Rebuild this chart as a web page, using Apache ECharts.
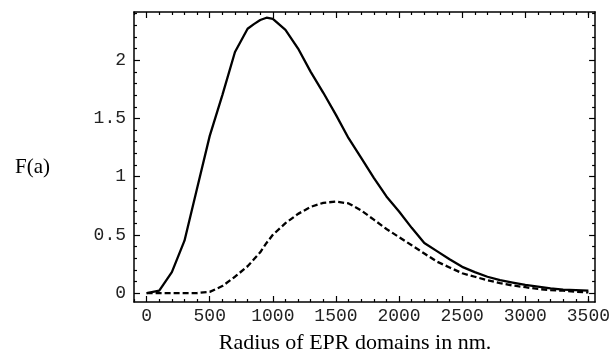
<!DOCTYPE html>
<html>
<head>
<meta charset="utf-8">
<script src="https://cdn.jsdelivr.net/npm/echarts@6/dist/echarts.min.js"></script>
<style>html,body{margin:0;padding:0;background:#fff}#c{width:613px;height:356px}</style>
</head>
<body>
<div id="c"></div>
<script>
// Radius (nm)
var radius = [0,100,200,300,400,500,600,700,800,850,900,950,1000,1100,1200,1300,1400,1500,1600,1700,1800,1900,2000,2100,2200,2300,2400,2500,2600,2700,2800,2900,3000,3100,3200,3300,3400,3500];
// Solid curve F(a)
var solidF = [0,0.02,0.18,0.45,0.9,1.35,1.7,2.07,2.27,2.31,2.345,2.365,2.355,2.26,2.1,1.9,1.72,1.53,1.33,1.16,0.99,0.83,0.7,0.56,0.43,0.36,0.29,0.225,0.18,0.14,0.11,0.09,0.07,0.055,0.04,0.03,0.025,0.02];
// Dashed curve F(a)
var dashedF = [0,0,0,0,0,0.01,0.06,0.14,0.23,0.29,0.35,0.43,0.5,0.6,0.68,0.74,0.775,0.785,0.77,0.71,0.63,0.55,0.48,0.41,0.34,0.27,0.22,0.17,0.14,0.11,0.085,0.065,0.05,0.035,0.025,0.02,0.01,0.005];

var xMajorTicks = [0,500,1000,1500,2000,2500,3000,3500];
var xMinorTicks = [-100,100,200,300,400,600,700,800,900,1100,1200,1300,1400,1600,1700,1800,1900,2100,2200,2300,2400,2600,2700,2800,2900,3100,3200,3300,3400,3500];
var yMajorTicks = [0,0.5,1,1.5,2];
var yMinorTicks = [0.1,0.2,0.3,0.4,0.6,0.7,0.8,0.9,1.1,1.2,1.3,1.4,1.6,1.7,1.8,1.9,2.1,2.2,2.3,2.4];

var xMin = -100, xMax = 3553, yMin = -0.077, yMax = 2.414;

function pairs(xs, ys){ return xs.map(function(x,i){ return [x, ys[i]]; }); }

var monoLabel = {fontFamily:'Liberation Mono', fontSize:18, color:'#222', formatter:function(v){ return String(v); }};

function xAx(pos, major, showLine, showLabel){
  return {
    type:'value', position:pos, min:xMin, max:xMax,
    splitLine:{show:false},
    axisLine:{show:showLine, onZero:false, lineStyle:{color:'#000', width:1.5}},
    axisTick:{show:true, inside:true, length: major?6:3, customValues: major?xMajorTicks:xMinorTicks, lineStyle:{color:'#000', width:1.2}},
    axisLabel:Object.assign({show:showLabel, margin:5, customValues:xMajorTicks}, monoLabel)
  };
}
function yAx(pos, major, showLine, showLabel){
  return {
    type:'value', position:pos, min:yMin, max:yMax,
    splitLine:{show:false},
    axisLine:{show:showLine, onZero:false, lineStyle:{color:'#000', width:1.5}},
    axisTick:{show:true, inside:true, length: major?6:3, customValues: major?yMajorTicks:yMinorTicks, lineStyle:{color:'#000', width:1.2}},
    axisLabel:Object.assign({show:showLabel, margin:8, customValues:yMajorTicks}, monoLabel)
  };
}

var chart = echarts.init(document.getElementById('c'), null, {renderer:'canvas'});
chart.setOption({
  animation:false,
  backgroundColor:'#fff',
  grid:{left:134, right:16, top:12, bottom:54, containLabel:false},
  xAxis:[xAx('bottom',true,true,true), xAx('bottom',false,false,false), xAx('top',true,true,false), xAx('top',false,false,false)],
  yAxis:[yAx('left',true,true,true), yAx('left',false,false,false), yAx('right',true,true,false), yAx('right',false,false,false)],
  series:[
    {type:'line', data:pairs(radius, solidF), xAxisIndex:0, yAxisIndex:0, showSymbol:false, symbol:'none',
     lineStyle:{color:'#000', width:2.3}, z:3},
    {type:'line', data:pairs(radius, dashedF), xAxisIndex:0, yAxisIndex:0, showSymbol:false, symbol:'none',
     lineStyle:{color:'#000', width:2.3, type:[6,3]}, z:4}
  ],
  graphic:[
    {type:'text', left:15, top:157, style:{text:'F(a)', font:'21px "Liberation Serif"', fill:'#000'}},
    {type:'text', x:355, y:343, style:{text:'Radius of EPR domains in nm.', font:'22px "Liberation Serif"', fill:'#000', align:'center', verticalAlign:'middle'}}
  ]
});
</script>
</body>
</html>
